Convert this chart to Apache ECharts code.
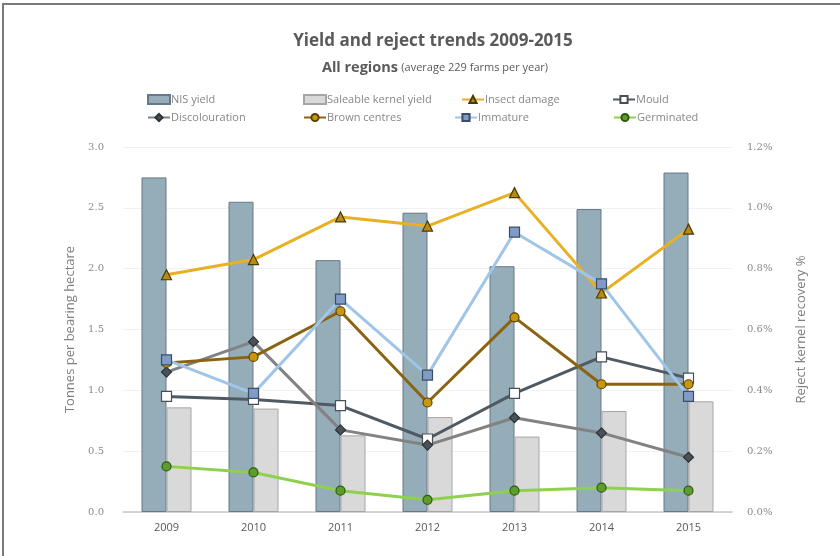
<!DOCTYPE html>
<html><head><meta charset="utf-8">
<script src="https://cdn.jsdelivr.net/npm/echarts@6/dist/echarts.min.js"></script>
<style>html,body{margin:0;padding:0;background:#fff}#c{width:840px;height:556px}</style>
</head><body><div id="c"></div>
<script>
const years = ['2009','2010','2011','2012','2013','2014','2015'];
const nisYield = [2.75, 2.55, 2.07, 2.46, 2.02, 2.49, 2.79];
const saleableYield = [0.86, 0.85, 0.63, 0.78, 0.62, 0.83, 0.91];
const insectDamage = [0.78, 0.83, 0.97, 0.94, 1.05, 0.72, 0.93];
const mould = [0.38, 0.37, 0.35, 0.24, 0.39, 0.51, 0.44];
const discolouration = [0.46, 0.56, 0.27, 0.22, 0.31, 0.26, 0.18];
const brownCentres = [0.49, 0.51, 0.66, 0.36, 0.64, 0.42, 0.42];
const immature = [0.50, 0.39, 0.70, 0.45, 0.92, 0.75, 0.38];
const germinated = [0.15, 0.13, 0.07, 0.04, 0.07, 0.08, 0.07];
const leftTicks = ['0.0','0.5','1.0','1.5','2.0','2.5','3.0'];
const rightTicks = ['0.0%','0.2%','0.4%','0.6%','0.8%','1.0%','1.2%'];

const FONT = '"Open Sans", "Noto Sans", sans-serif';
const chart = echarts.init(document.getElementById('c'));

function lineSeries(name, data, lineColor, symbol, fill, border, size) {
  return {
    name, type: 'line', yAxisIndex: 1, data: data.map(v => v / 100),
    symbol, symbolSize: size || 9, showAllSymbol: true,
    lineStyle: { color: lineColor, width: 3 },
    itemStyle: { color: fill, borderColor: border, borderWidth: 1.2 },
    z: 3
  };
}
function legendAt(name, left, top, icon) {
  const l = {
    data: [name], left, top, itemWidth: 22, itemHeight: 9, itemGap: 0,
    textStyle: { color: '#878787', fontSize: 11, fontFamily: FONT, padding: [0, 0, 0, -4] },
    padding: 0
  };
  if (icon) l.icon = icon;
  return l;
}

chart.setOption({
  animation: false,
  backgroundColor: '#fff',
  graphic: [
    { type: 'rect', shape: { x: 3, y: 4, width: 900, height: 700 }, style: { fill: 'none', stroke: '#7a7a7a', lineWidth: 2 }, silent: true },
    { type: 'text', x: 433, y: 41, style: { text: 'Yield and reject trends 2009-2015', align: 'center', verticalAlign: 'middle', fill: '#5a5a5a', font: 'bold 17px ' + FONT } },
    { type: 'text', x: 435, y: 68, style: { text: '{a|All regions} {b|(average 229 farms per year)}', align: 'center', verticalAlign: 'middle',
      rich: {
        a: { fill: '#5a5a5a', fontSize: 14.5, fontWeight: 'bold', fontFamily: FONT },
        b: { fill: '#5a5a5a', fontSize: 11, fontFamily: FONT }
      } } }
  ],
  legend: [
    legendAt('NIS yield', 147, 94, 'rect'),
    legendAt('Saleable kernel yield', 303, 94, 'rect'),
    legendAt('Insect damage', 461, 94),
    legendAt('Mould', 612, 94),
    legendAt('Discolouration', 147, 112),
    legendAt('Brown centres', 303, 112),
    legendAt('Immature', 454, 112),
    legendAt('Germinated', 613, 112)
  ],
  grid: { left: 123, right: 108, top: 147, bottom: 44 },
  xAxis: {
    type: 'category', data: years,
    axisLine: { lineStyle: { color: '#c8c8c8', width: 1.5 } },
    axisTick: { show: false },
    axisLabel: { color: '#595959', fontSize: 11, fontFamily: FONT, margin: 10 }
  },
  yAxis: [
    {
      type: 'value', min: 0, max: 3, interval: 0.5,
      name: 'Tonnes per bearing hectare', nameLocation: 'middle', nameGap: 46, nameRotate: 90,
      nameTextStyle: { color: '#7f7f7f', fontSize: 13, fontFamily: FONT },
      axisLine: { show: false }, axisTick: { show: false },
      axisLabel: { color: '#8a8a8a', fontSize: 10, fontFamily: '"DejaVu Serif", serif', margin: 19, formatter: (v) => leftTicks[Math.round(v * 2)] },
      splitLine: { lineStyle: { color: '#f1f1f1', width: 1 } }
    },
    {
      type: 'value', min: 0, max: 0.012, interval: 0.002,
      name: 'Reject kernel recovery %', nameLocation: 'middle', nameGap: 63, nameRotate: 90,
      nameTextStyle: { color: '#7f7f7f', fontSize: 13, fontFamily: FONT },
      axisLine: { show: false }, axisTick: { show: false },
      axisLabel: { color: '#8a8a8a', fontSize: 10, fontFamily: '"DejaVu Serif", serif', margin: 15, formatter: (v) => rightTicks[Math.round(v * 500)] },
      splitLine: { show: false }
    }
  ],
  series: [
    { name: 'NIS yield', type: 'bar', data: nisYield, barWidth: 25, barGap: '0%',
      itemStyle: { color: '#95acb9', borderColor: '#66798a', borderWidth: 1 }, z: 2 },
    { name: 'Saleable kernel yield', type: 'bar', data: saleableYield, barWidth: 25,
      itemStyle: { color: '#d9d9d9', borderColor: '#a6a6a6', borderWidth: 1 }, z: 2 },
    lineSeries('Insect damage', insectDamage, '#e8b124', 'triangle', '#b98a14', '#4a3a08', 10),
    lineSeries('Mould', mould, '#505a63', 'rect', '#ffffff', '#4a4f55', 10),
    lineSeries('Discolouration', discolouration, '#828282', 'diamond', '#4a5258', '#2d3236', 10),
    lineSeries('Brown centres', brownCentres, '#8a6410', 'circle', '#c8960f', '#5a4206', 9),
    lineSeries('Immature', immature, '#9fc5e8', 'rect', '#7f9bc6', '#3d4d66', 10),
    lineSeries('Germinated', germinated, '#8fd14f', 'circle', '#5e9c2b', '#2e5a12', 9)
  ]
});
</script></body></html>
